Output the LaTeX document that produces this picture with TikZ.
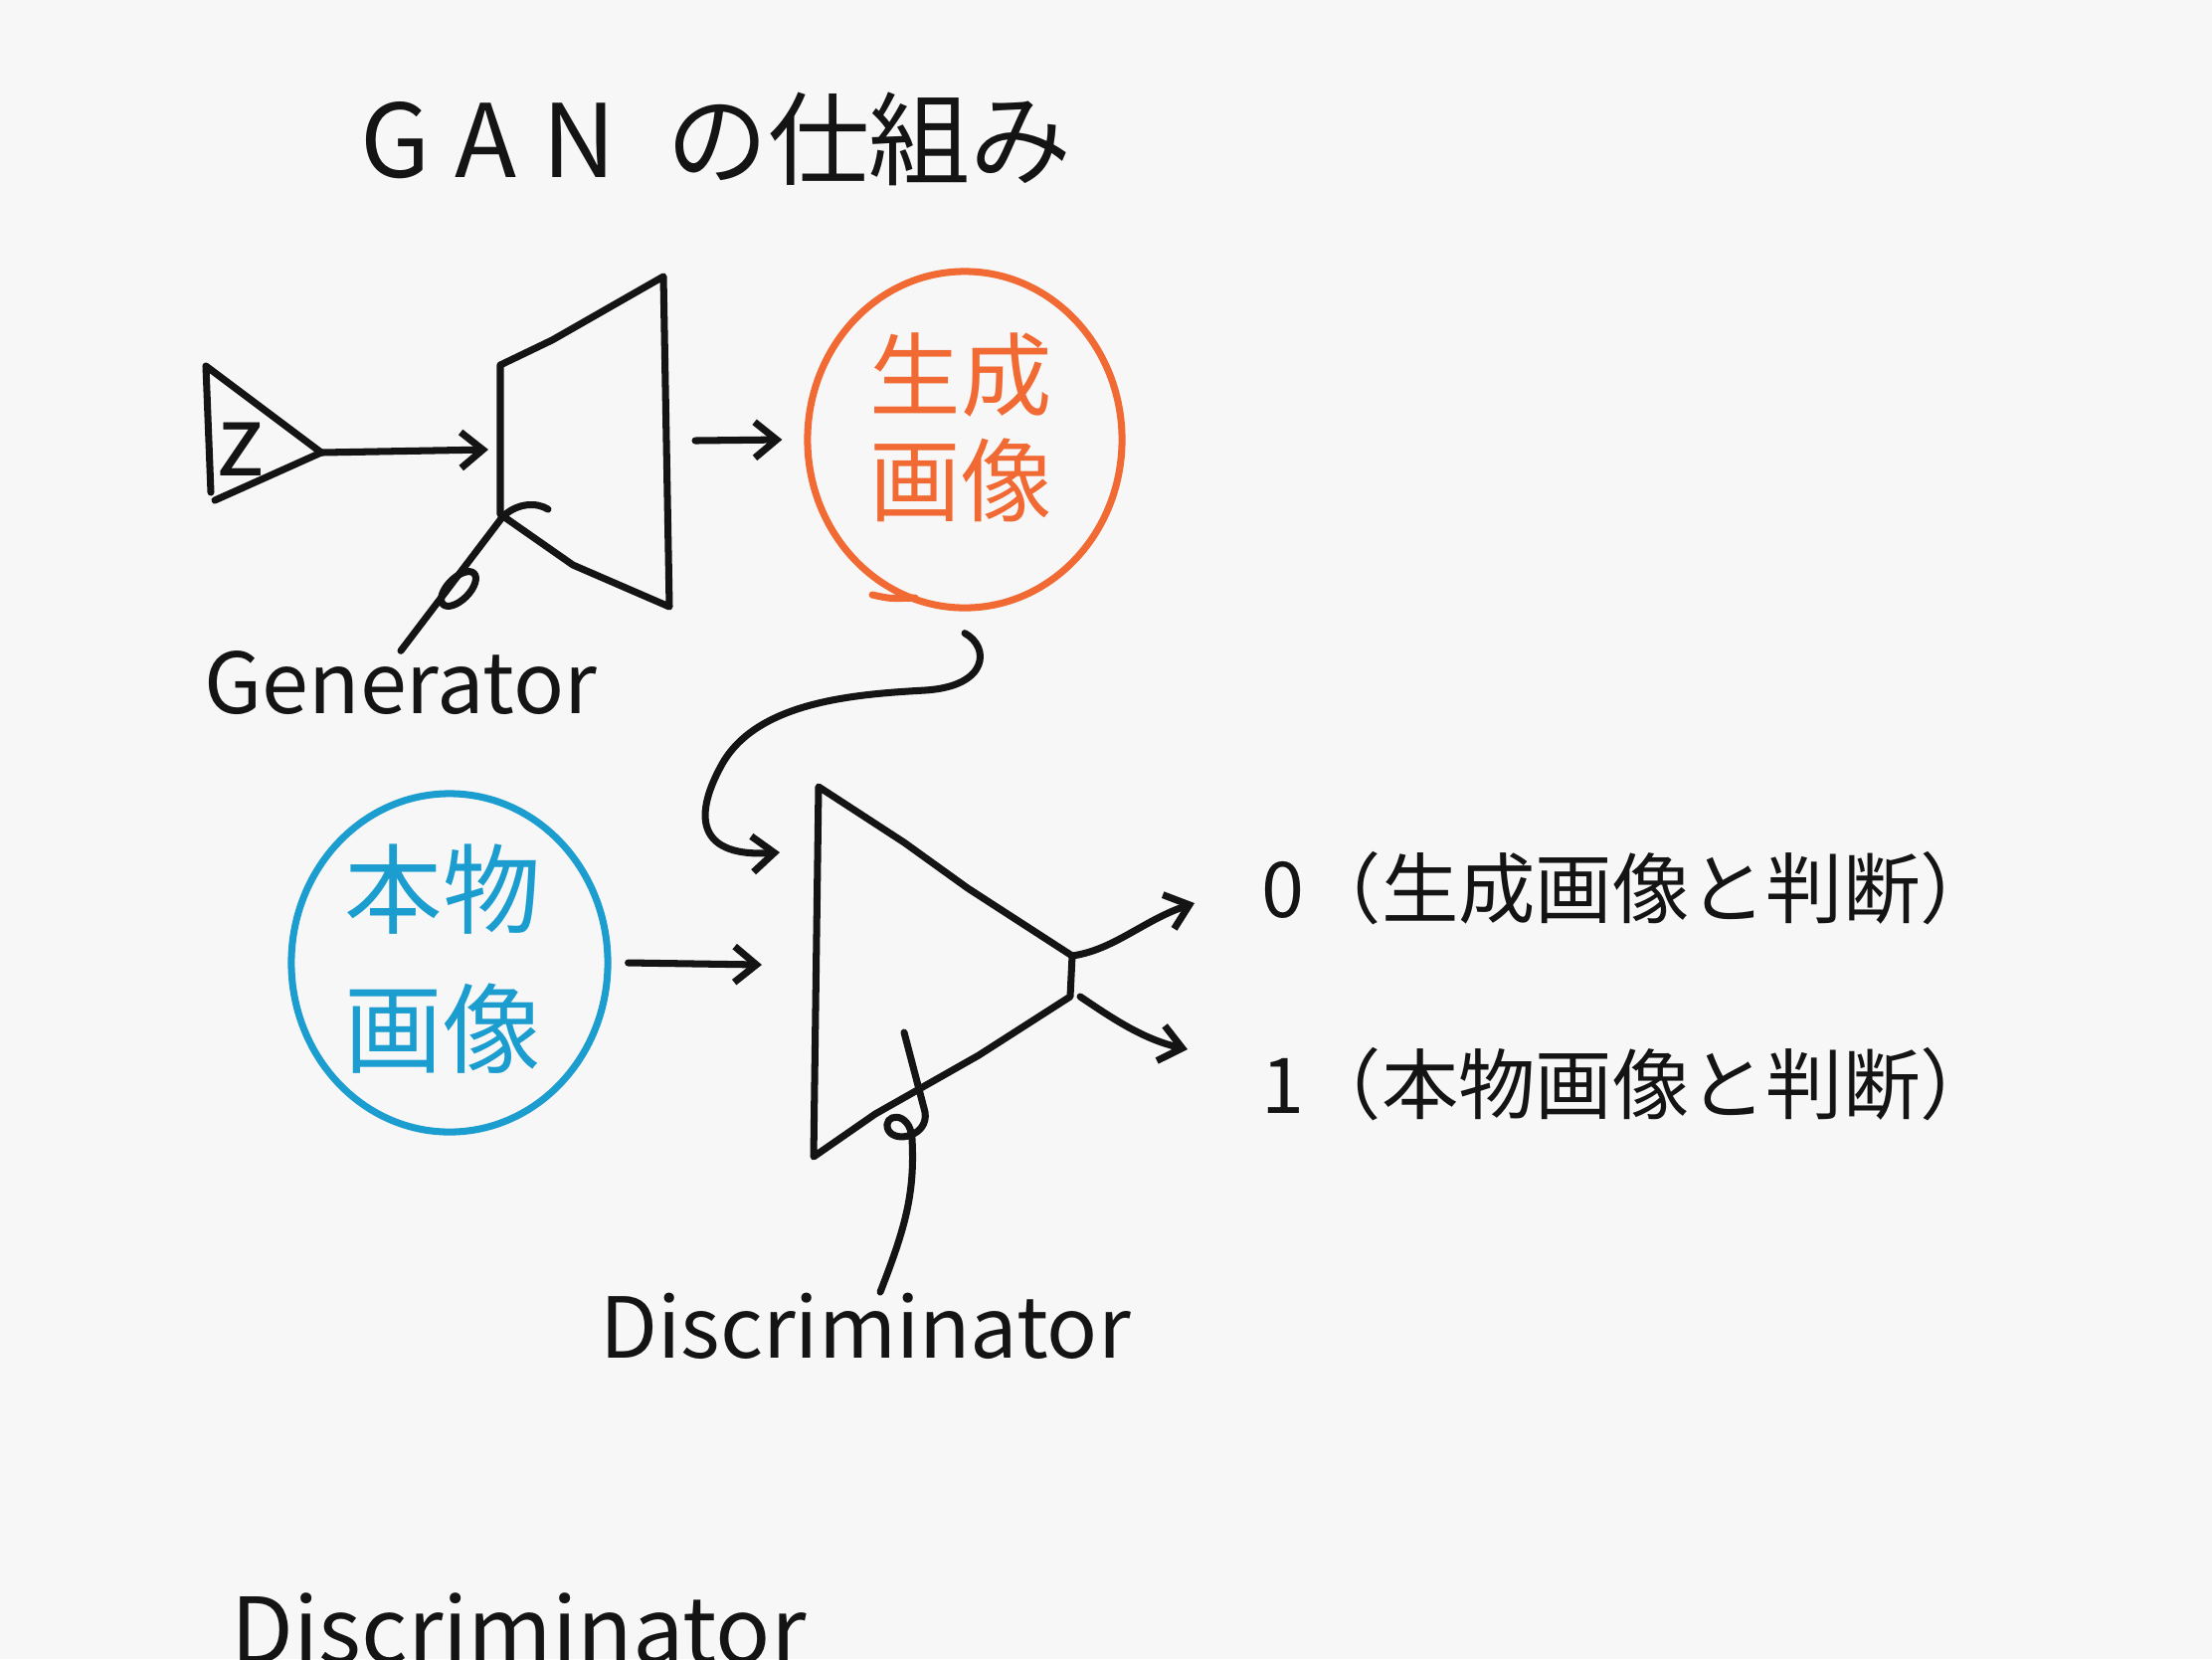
\documentclass[tikz,border=0pt]{standalone}
\usepackage{fontspec}
\setmainfont{Noto Sans CJK JP}
\usetikzlibrary{arrows.meta,shapes.geometric}
\definecolor{paper}{HTML}{F7F7F7}
\definecolor{ink}{HTML}{141414}
\definecolor{fakeor}{HTML}{F26A33}
\definecolor{realbl}{HTML}{1C9DD0}

\begin{document}
\begin{tikzpicture}[
  x=0.01cm, y=-0.01cm,
  >={Straight Barb[length=2.2mm,width=3.6mm]},
  pen/.style={draw=ink, line width=2pt, line cap=round, line join=round},
  hand/.style={text=ink, inner sep=0pt, font=\fontsize{24}{28}\selectfont},
  blob/.style={ellipse, line width=2pt, minimum width=3.16cm, minimum height=3.38cm},
  kanji/.style={inner sep=0pt, align=center},
]
\useasboundingbox (0,0) rectangle (2224,1668);
\clip (0,0) rectangle (2224,1668);
\fill[paper] (0,0) rectangle (2224,1668);

% Title
\node[hand, font=\fontsize{29}{34}\selectfont] (title) at (720,140)
  {G\kern0.25em A\kern0.25em N\hspace{0.5em}の仕組み};

% Generator
\coordinate (z1) at (207,368);
\coordinate (z2) at (212,495);
\coordinate (z3) at (216,503);
\coordinate (ztip) at (323,455);
\draw[pen] (z3) -- (ztip) -- (z1) -- (z2);
\node[hand, font=\fontsize{28}{32}\selectfont] (z) at (242,452) {z};

\coordinate (g1) at (503,367);
\coordinate (g2) at (667,278);
\coordinate (g3) at (673,610);
\coordinate (g4) at (503,517);
\draw[pen] (g4) -- (g1) -- (555,342) -- (g2) -- (g3) -- (576,568) -- (g4);
\coordinate (genin) at (491,452);
\draw[pen,->] (ztip) -- (genin);

\node[hand] (glab) at (403,687) {Generator};
\draw[pen] (glab.north) -- (505,520) .. controls (520,505) and (540,505) .. (551,512);
\draw[pen] (461,592) ellipse [x radius=22, y radius=11, rotate=45];

% fake image
\coordinate (genout) at (699,443);
\node[blob, draw=fakeor] (fake) at (970,442) {};
\draw[line width=2pt, fakeor, line cap=round] (877,598) .. controls (895,602) .. (920,601);
\node[kanji, text=fakeor, font=\fontsize{26}{30}\selectfont] (faketxt) at (966,430) {生成\\画像};
\draw[pen,->] (genout) -- ([xshift=-0.22cm]fake.west);

% real image
\node[blob, draw=realbl, minimum width=3.18cm, minimum height=3.4cm] (real) at (452,968) {};
\node[kanji, text=realbl, font=\fontsize{28}{40}\selectfont] (realtxt) at (445,964) {本物\\画像};

% Discriminator
\coordinate (d1) at (823,791);
\coordinate (d2) at (818,1163);
\coordinate (dtop) at (1078,961);
\coordinate (dbot) at (1076,1002);
\draw[pen] (d1) -- (909,847) -- (973,893) -- (dtop) -- (dbot) -- (984,1061) -- (880,1120) -- (d2) -- cycle;

\coordinate (din1) at (784,857);
\coordinate (din2) at (766,970);
\draw[pen,->] ([yshift=-0.22cm]fake.south) .. controls (995,650) and (995,690) .. (930,694)
  .. controls (860,698) and (760,705) .. (725,770) .. controls (695,825) and (705,862) .. (din1);
\draw[pen,->] ([xshift=0.17cm]real.east) -- (din2);

% outputs
\node[hand, anchor=west, font=\fontsize{22}{26}\selectfont] (out0) at (1268,893) {0（生成画像と判断）};
\node[hand, anchor=west, font=\fontsize{22}{26}\selectfont] (out1) at (1268,1090) {1（本物画像と判断）};
\coordinate (o0) at (1201,908);
\coordinate (o1) at (1194,1055);
\draw[pen,->] (dtop) .. controls (1120,955) and (1150,925) .. (o0);
\draw[pen,->] ([xshift=0.1cm]dbot) .. controls (1120,1025) and (1150,1045) .. (o1);

\node[hand] (dlab) at (870,1333) {Discriminator};
\coordinate (dth) at (909,1038);
\draw[pen] (dth) -- (930,1118) .. controls (934,1142) and (900,1150) .. (893,1136)
  .. controls (886,1120) and (915,1115) .. (917,1145)
  .. controls (920,1200) and (910,1235) .. ([xshift=0.15cm]dlab.north);

% cut off at the bottom
\node[hand, font=\fontsize{26}{30}\selectfont, anchor=base west] (dlab2) at (232,1672) {Discriminator};

\end{tikzpicture}
\end{document}
